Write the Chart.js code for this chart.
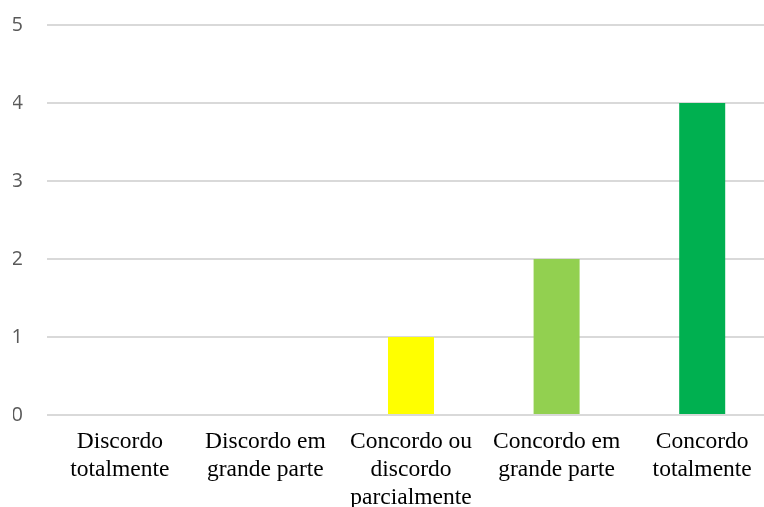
<!DOCTYPE html>
<html>
<head>
<meta charset="utf-8">
<script src="https://cdn.jsdelivr.net/npm/chart.js@4/dist/chart.umd.min.js"></script>
<style>
    html, body { margin: 0; padding: 0; background: #fff; overflow: hidden; }
    #wrap { width: 790px; height: 530px; position: relative; margin-top: -11px; }
</style>
</head>
<body>
<div id="wrap"><canvas id="answers-chart"></canvas></div>
<script>
// Respostas por nível de concordância
const categories = [
    ['Discordo', 'totalmente'],
    ['Discordo em', 'grande parte'],
    ['Concordo ou', 'discordo', 'parcialmente'],
    ['Concordo em', 'grande parte'],
    ['Concordo', 'totalmente']
];
const answerCounts = [0, 0, 1, 2, 4];
const barColors = ['#c00000', '#ff9900', '#ffff00', '#92d050', '#00b050'];
const yTicks = [0, 1, 2, 3, 4, 5];

function renderAnswersChart() {
    const ctx = document.getElementById('answers-chart').getContext('2d');

    new Chart(ctx, {
        type: 'bar',
        data: {
            labels: categories,
            datasets: [{
                data: answerCounts,
                backgroundColor: barColors,
                borderWidth: 0,
                categoryPercentage: 1,
                barPercentage: 0.316
            }]
        },
        options: {
            responsive: true,
            maintainAspectRatio: false,
            animation: false,
            layout: {
                padding: { left: 13, right: 15, top: 14, bottom: 2 }
            },
            plugins: {
                legend: { display: false },
                tooltip: { enabled: false }
            },
            scales: {
                x: {
                    grid: { display: false },
                    border: { display: false },
                    ticks: {
                        color: '#000',
                        padding: 5,
                        maxRotation: 0,
                        autoSkip: false,
                        font: { family: '"Liberation Serif", "Times New Roman", serif', size: 23.5, lineHeight: 1.19 }
                    }
                },
                y: {
                    min: yTicks[0],
                    max: yTicks[yTicks.length - 1],
                    border: { display: false },
                    grid: { color: '#d9d9d9', lineWidth: 2, drawTicks: false },
                    afterBuildTicks: scale => {
                        scale.ticks = yTicks.map(v => ({ value: v }));
                    },
                    afterFit: scale => { scale.width = 34; },
                    ticks: {
                        color: '#595959',
                        padding: 24,
                        font: { family: '"Open Sans", sans-serif', size: 20 }
                    }
                }
            }
        }
    });
}

renderAnswersChart();
</script>
</body>
</html>
